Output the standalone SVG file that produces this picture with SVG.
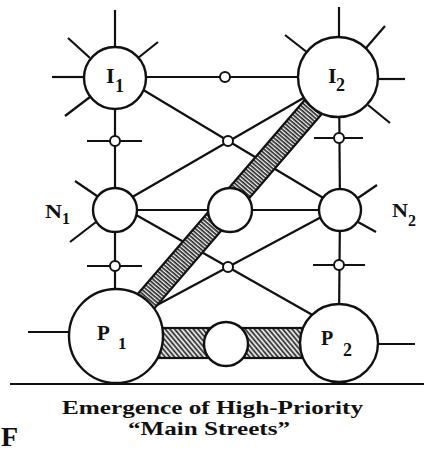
<svg xmlns="http://www.w3.org/2000/svg" width="424" height="452" viewBox="0 0 424 452">
<style>
.ln{stroke:#111;stroke-width:2.2;fill:none;stroke-linecap:butt}
.nd{fill:#fff;stroke:#111;stroke-width:2.4}
.jn{fill:#fff;stroke:#111;stroke-width:2}
.lb{font-family:"Liberation Serif","Times New Roman",serif;font-weight:bold;fill:#111}
.band{stroke:#111;stroke-width:2.2}
</style>
<defs>
<pattern id="hd" patternUnits="userSpaceOnUse" width="3" height="10">
<rect width="3" height="10" fill="#fff"/>
<line x1="1.2" y1="0" x2="1.2" y2="10" stroke="#222" stroke-width="1.7"/>
</pattern>
<pattern id="hh" patternUnits="userSpaceOnUse" width="3.6" height="10" patternTransform="rotate(-40)">
<rect width="3.6" height="10" fill="#fff"/>
<line x1="1.4" y1="0" x2="1.4" y2="10" stroke="#222" stroke-width="1.8"/>
</pattern>
</defs>
<rect width="424" height="452" fill="#fff"/>
<g id="connectors">
<line class="ln" x1="115" y1="77" x2="338" y2="77"/>
<line class="ln" x1="115" y1="210" x2="340" y2="210"/>
<line class="ln" x1="115" y1="78" x2="115" y2="300"/>
<line class="ln" x1="339" y1="77" x2="340" y2="210"/>
<line class="ln" x1="340" y1="210" x2="339" y2="320"/>
<line class="ln" x1="115" y1="73" x2="340" y2="208"/>
<line class="ln" x1="115" y1="207" x2="338" y2="78"/>
<line class="ln" x1="115" y1="203" x2="339" y2="330"/>
<line class="ln" x1="340" y1="207" x2="116" y2="327"/>
<line class="ln" x1="87" y1="141" x2="142" y2="141"/>
<line class="ln" x1="314" y1="138" x2="363" y2="138"/>
<line class="ln" x1="87" y1="266" x2="142" y2="266"/>
<line class="ln" x1="313" y1="265" x2="365" y2="265"/>
<line class="ln" x1="115" y1="47" x2="115" y2="10"/>
<line class="ln" x1="90" y1="58" x2="68" y2="38"/>
<line class="ln" x1="138" y1="58" x2="158" y2="42"/>
<line class="ln" x1="84" y1="77" x2="52" y2="77"/>
<line class="ln" x1="90" y1="97" x2="65" y2="116"/>
<line class="ln" x1="339" y1="37" x2="339" y2="7"/>
<line class="ln" x1="308" y1="53" x2="285" y2="35"/>
<line class="ln" x1="366" y1="48" x2="385" y2="26"/>
<line class="ln" x1="378" y1="79" x2="405" y2="79"/>
<line class="ln" x1="368" y1="105" x2="390" y2="123"/>
<line class="ln" x1="97" y1="196" x2="75" y2="181"/>
<line class="ln" x1="96" y1="222" x2="70" y2="242"/>
<line class="ln" x1="358" y1="198" x2="377" y2="185"/>
<line class="ln" x1="358" y1="222" x2="376" y2="232"/>
<line class="ln" x1="69" y1="332" x2="28" y2="332"/>
<line class="ln" x1="378" y1="344" x2="415" y2="344"/>
<line class="ln" x1="10" y1="384" x2="424" y2="384"/>
<g transform="translate(116,336) rotate(-49.27)">
<rect class="band" x="0" y="-11" width="342" height="22" fill="url(#hd)"/>
</g>
<rect class="band" x="116" y="328" width="223" height="30" fill="url(#hh)"/>
</g>
<g id="I1"><circle class="nd" cx="115" cy="78" r="31"/>
<text class="lb" x="106" y="83" font-size="22">I</text><text class="lb" x="115" y="92" font-size="18">1</text></g>
<g id="I2"><circle class="nd" cx="338" cy="77" r="40"/>
<text class="lb" x="328" y="83" font-size="22">I</text><text class="lb" x="336" y="91" font-size="18">2</text></g>
<g id="N1"><circle class="nd" cx="115" cy="210" r="22"/>
<text class="lb" x="45" y="218" font-size="18" textLength="17" lengthAdjust="spacingAndGlyphs">N</text><text class="lb" x="62" y="224" font-size="16">1</text></g>
<g id="C"><circle class="nd" cx="230" cy="210" r="22"/></g>
<g id="N2"><circle class="nd" cx="340" cy="210" r="21"/>
<text class="lb" x="392" y="217" font-size="18" textLength="16" lengthAdjust="spacingAndGlyphs">N</text><text class="lb" x="408" y="226" font-size="16">2</text></g>
<g id="P1"><circle class="nd" cx="116" cy="336" r="47"/>
<text class="lb" x="97" y="340" font-size="21">P</text><text class="lb" x="118" y="349" font-size="17">1</text></g>
<g id="Cb"><circle class="nd" cx="226" cy="344" r="22"/></g>
<g id="P2"><circle class="nd" cx="339" cy="343" r="39"/>
<text class="lb" x="321" y="345" font-size="20">P</text><text class="lb" x="343" y="356" font-size="18">2</text></g>
<g id="J1"><circle class="jn" cx="225" cy="77" r="5"/></g>
<g id="J2"><circle class="jn" cx="115" cy="141" r="5"/></g>
<g id="J3"><circle class="jn" cx="339" cy="138" r="5"/></g>
<g id="J4"><circle class="jn" cx="115" cy="266" r="5"/></g>
<g id="J5"><circle class="jn" cx="339" cy="265" r="5"/></g>
<g id="X1"><circle class="jn" cx="228" cy="141" r="5"/></g>
<g id="X2"><circle class="jn" cx="228" cy="267" r="5"/></g>
<g id="caption">
<text class="lb" x="62" y="414" font-size="19" textLength="301" lengthAdjust="spacingAndGlyphs">Emergence of High-Priority</text>
<text class="lb" x="128" y="435" font-size="19" textLength="162" lengthAdjust="spacingAndGlyphs">“Main Streets”</text>
<text class="lb" x="1" y="446" font-size="28">F</text>
</g>
</svg>
